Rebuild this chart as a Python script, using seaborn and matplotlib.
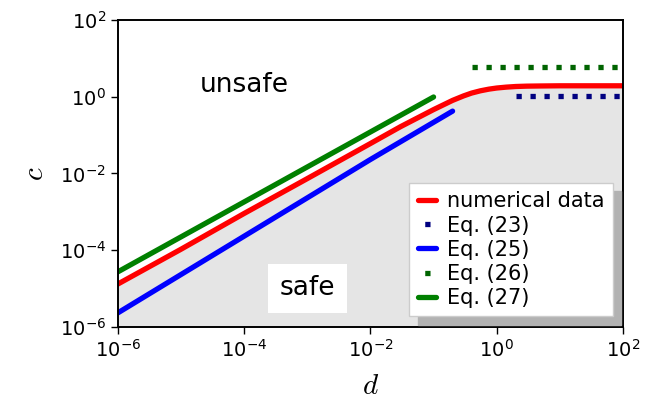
import matplotlib
matplotlib.use("Agg")
import matplotlib.pyplot as plt
import matplotlib.ticker as mticker
import seaborn as sns

# numerical data (red curve)
d_num = [1e-6, 1e-5, 1e-4, 1e-3, 1e-2, 3e-2, 1e-1, 0.2, 0.3, 0.4, 0.55, 0.75, 1.0, 1.4, 2.0, 3.0, 5.0, 10.0, 100.0]
c_num = [1.3e-5, 1.05e-4, 9.0e-4, 7.3e-3, 6.0e-2, 0.165, 0.46, 0.80, 1.05, 1.24, 1.42, 1.57, 1.68, 1.77, 1.84, 1.88, 1.9, 1.92, 1.92]

# Eq. (23): constant, dotted navy
d_23 = [2.0, 100.0]
c_23 = [1.05, 1.05]

# Eq. (25): blue power law
d_25 = [1e-6, 1e-4, 1e-2, 0.2]
c_25 = [2.3e-6, 2.3e-4, 2.3e-2, 0.42]

# Eq. (26): constant, dotted dark green
d_26 = [0.4, 100.0]
c_26 = [5.9, 5.9]

# Eq. (27): green power law
d_27 = [1e-6, 1e-4, 1e-2, 0.1]
c_27 = [2.7e-5, 1.8e-3, 1.2e-1, 0.98]

sns.set_style("ticks")
plt.rcParams["font.family"] = ["DejaVu Sans"]
plt.rcParams["text.color"] = "black"
plt.rcParams["axes.labelcolor"] = "black"
plt.rcParams["xtick.color"] = "black"
plt.rcParams["ytick.color"] = "black"

fig = plt.figure(figsize=(6.47, 4.07), dpi=100)
ax = fig.add_axes([0.182, 0.197, 0.781, 0.754])
ax.set_xscale("log")
ax.set_yscale("log")

# zona segura (debajo de la curva numérica)
ax.fill_between(d_num, c_num, 1e-6, color="#e5e5e5", linewidth=0, zorder=0)

lw = 3.8
sns.lineplot(x=d_num, y=c_num, ax=ax, color="red", lw=lw, label="numerical data", sort=False)
sns.lineplot(x=d_23, y=c_23, ax=ax, color="navy", lw=lw, linestyle=":", label="Eq. (23)", sort=False)
sns.lineplot(x=d_25, y=c_25, ax=ax, color="blue", lw=lw, label="Eq. (25)", sort=False)
sns.lineplot(x=d_26, y=c_26, ax=ax, color="darkgreen", lw=lw, linestyle=":", label="Eq. (26)", sort=False)
sns.lineplot(x=d_27, y=c_27, ax=ax, color="green", lw=lw, label="Eq. (27)", sort=False)

ax.set_xlim(1e-6, 1e2)
ax.set_ylim(1e-6, 1e2)
ax.set_xticks([1e-6, 1e-4, 1e-2, 1e0, 1e2])
ax.set_yticks([1e-6, 1e-4, 1e-2, 1e0, 1e2])
ax.xaxis.set_minor_locator(mticker.NullLocator())
ax.yaxis.set_minor_locator(mticker.NullLocator())
ax.tick_params(labelsize=14, length=5, width=1, color="black", direction="out")
for s in ax.spines.values():
    s.set_linewidth(1.4)
    s.set_color("black")

ax.set_xlabel("$d$", fontsize=21, math_fontfamily="cm", labelpad=8)
ax.set_ylabel("$c$", fontsize=21, math_fontfamily="cm", labelpad=8)

ax.text(1e-4, 2.0, "unsafe", fontsize=19, ha="center", va="center")
ax.text(1e-3, 1e-5, "safe", fontsize=19, ha="center", va="center",
        bbox=dict(facecolor="white", edgecolor="none", boxstyle="square,pad=0.45"))

leg = ax.legend(loc="lower right", fontsize=15, handlelength=0.9, handletextpad=0.5,
                labelspacing=0.2, borderpad=0.4, fancybox=False, framealpha=1,
                shadow={"ox": 6, "oy": -6, "color": "#b2b2b2", "alpha": 1})
leg.get_frame().set_edgecolor("#cccccc")
# una sola marca centrada en los símbolos punteados de la leyenda
for linea in leg.get_lines():
    if linea.get_linestyle() == ":":
        linea.set_linestyle((4.72, (1, 5)))

plt.savefig("out.png", dpi=100)
plt.close()
